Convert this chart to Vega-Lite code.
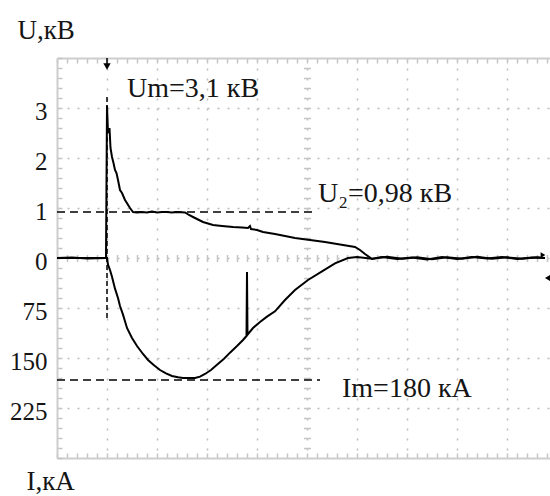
{
  "$schema": "https://vega.github.io/schema/vega-lite/v6.json",
  "width": 493,
  "height": 400,
  "autosize": "none",
  "padding": {"left": 57, "top": 58, "right": 0, "bottom": 38},
  "background": "white",
  "config": {"view": {"stroke": null}, "font": "'Liberation Serif', 'DejaVu Serif', serif"},
  "datasets": {
    "voltage": [
      {"t": 0, "v": 0}, {"t": 0.3, "v": 0.01}, {"t": 0.6, "v": -0.01}, {"t": 0.98, "v": 0},
      {"t": 1.0, "v": 3.05}, {"t": 1.02, "v": 2.5}, {"t": 1.05, "v": 2.6}, {"t": 1.07, "v": 2.2},
      {"t": 1.1, "v": 2.02}, {"t": 1.13, "v": 1.9}, {"t": 1.16, "v": 1.76}, {"t": 1.19, "v": 1.7},
      {"t": 1.22, "v": 1.56}, {"t": 1.26, "v": 1.36}, {"t": 1.3, "v": 1.3}, {"t": 1.36, "v": 1.16},
      {"t": 1.41, "v": 1.08}, {"t": 1.46, "v": 1.0}, {"t": 1.52, "v": 0.92}, {"t": 1.6, "v": 0.91},
      {"t": 1.7, "v": 0.92}, {"t": 1.8, "v": 0.91}, {"t": 1.9, "v": 0.93}, {"t": 2.0, "v": 0.91},
      {"t": 2.1, "v": 0.92}, {"t": 2.2, "v": 0.92}, {"t": 2.3, "v": 0.91}, {"t": 2.4, "v": 0.92},
      {"t": 2.56, "v": 0.91}, {"t": 2.64, "v": 0.86}, {"t": 2.72, "v": 0.82}, {"t": 2.82, "v": 0.77},
      {"t": 2.92, "v": 0.72}, {"t": 3.02, "v": 0.69}, {"t": 3.12, "v": 0.66}, {"t": 3.3, "v": 0.64},
      {"t": 3.52, "v": 0.62}, {"t": 3.7, "v": 0.61}, {"t": 3.82, "v": 0.6}, {"t": 3.86, "v": 0.64},
      {"t": 3.88, "v": 0.58}, {"t": 4.0, "v": 0.56}, {"t": 4.12, "v": 0.52}, {"t": 4.24, "v": 0.5},
      {"t": 4.36, "v": 0.48}, {"t": 4.56, "v": 0.44}, {"t": 4.76, "v": 0.4}, {"t": 5.06, "v": 0.36},
      {"t": 5.36, "v": 0.32}, {"t": 5.66, "v": 0.27}, {"t": 5.96, "v": 0.22}, {"t": 6.06, "v": 0.16},
      {"t": 6.16, "v": 0.08}, {"t": 6.3, "v": -0.02}, {"t": 6.5, "v": 0.02}, {"t": 6.8, "v": -0.02},
      {"t": 7.1, "v": 0.01}, {"t": 7.4, "v": -0.03}, {"t": 7.7, "v": 0.02}, {"t": 8.0, "v": -0.02},
      {"t": 8.3, "v": 0.02}, {"t": 8.6, "v": -0.01}, {"t": 8.9, "v": 0.02}, {"t": 9.2, "v": -0.02},
      {"t": 9.5, "v": 0.01}, {"t": 9.76, "v": 0}
    ],
    "current": [
      {"t": 0, "i": 0}, {"t": 0.98, "i": 0}, {"t": 1.0, "i": 0}, {"t": 1.02, "i": 10},
      {"t": 1.06, "i": 18}, {"t": 1.1, "i": 28}, {"t": 1.16, "i": 46}, {"t": 1.22, "i": 60},
      {"t": 1.26, "i": 72}, {"t": 1.32, "i": 85}, {"t": 1.4, "i": 105}, {"t": 1.5, "i": 120},
      {"t": 1.6, "i": 132}, {"t": 1.72, "i": 144}, {"t": 1.82, "i": 153}, {"t": 1.94, "i": 161},
      {"t": 2.06, "i": 168}, {"t": 2.18, "i": 173}, {"t": 2.3, "i": 177}, {"t": 2.42, "i": 179},
      {"t": 2.52, "i": 180}, {"t": 2.64, "i": 180}, {"t": 2.76, "i": 180}, {"t": 2.86, "i": 178},
      {"t": 2.96, "i": 174}, {"t": 3.08, "i": 168}, {"t": 3.2, "i": 160}, {"t": 3.34, "i": 151},
      {"t": 3.46, "i": 142}, {"t": 3.6, "i": 132}, {"t": 3.72, "i": 123}, {"t": 3.79, "i": 117},
      {"t": 3.8, "i": 21}, {"t": 3.81, "i": 115}, {"t": 3.92, "i": 105}, {"t": 4.06, "i": 96},
      {"t": 4.2, "i": 88}, {"t": 4.36, "i": 80}, {"t": 4.56, "i": 63}, {"t": 4.76, "i": 48},
      {"t": 5.02, "i": 33}, {"t": 5.3, "i": 20}, {"t": 5.56, "i": 8}, {"t": 5.82, "i": 0},
      {"t": 6.0, "i": -1.5}, {"t": 6.3, "i": 1}, {"t": 6.6, "i": -2}, {"t": 6.9, "i": 1},
      {"t": 7.2, "i": -1}, {"t": 7.5, "i": 2}, {"t": 7.8, "i": -1}, {"t": 8.1, "i": 1},
      {"t": 8.4, "i": -2}, {"t": 8.7, "i": 1}, {"t": 9.0, "i": -1}, {"t": 9.3, "i": 1},
      {"t": 9.6, "i": -1}, {"t": 9.76, "i": 0}
    ],
    "vnotes": [
      {"t": 1.4, "v": 3.22, "label": "Um=3,1 кВ"},
      {"t": 5.22, "v": 1.12, "label": "U₂=0,98 кВ"}
    ],
    "inotes": [
      {"t": 5.7, "i": 208.5, "label": "Im=180 кА"}
    ],
    "one": [{}]
  },
  "layer": [
    {
      "resolve": {"axis": {"x": "independent", "y": "independent"}},
      "layer": [
        {
          "data": {"name": "voltage"},
          "mark": {"type": "line", "color": "black", "strokeWidth": 2},
          "encoding": {
            "x": {"field": "t", "type": "quantitative",
              "scale": {"domain": [0, 9.86], "nice": false, "zero": false},
              "axis": {"orient": "bottom", "values": [1, 2, 3, 4, 5, 6, 7, 8, 9], "grid": true,
                "gridColor": "#bdbdbd", "gridDash": [2, 8], "gridWidth": 1.5,
                "ticks": false, "tickSize": 0, "labels": false, "domain": false, "title": null}},
            "y": {"field": "v", "type": "quantitative",
              "scale": {"domain": [-4, 4], "nice": false, "zero": false},
              "axis": {"orient": "left", "values": [3, 2, 1, 0, -1, -2, -3], "grid": true,
                "gridColor": "#bdbdbd", "gridDash": [2, 8], "gridWidth": 1.5,
                "ticks": false, "tickSize": 0, "domain": false,
                "labelExpr": "datum.value >= 0 ? '' + datum.value : '' + (-datum.value * 75)",
                "labelFont": "'Liberation Serif', 'DejaVu Serif', serif", "labelFontSize": 25, "labelColor": "#151515",
                "labelPadding": 10, "labelOffset": 3,
                "title": "U,кВ", "titleAngle": 0, "titleX": -40, "titleY": -20,
                "titleAlign": "left", "titleBaseline": "alphabetic",
                "titleFont": "'Liberation Serif', 'DejaVu Serif', serif", "titleFontSize": 27, "titleFontWeight": "normal",
                "titleColor": "#151515"}}
          }
        },
        {
          "data": {"name": "one"},
          "mark": {"type": "rule", "color": "black", "strokeWidth": 1.5, "strokeDash": [5, 3]},
          "encoding": {
            "x": {"datum": 1, "type": "quantitative",
              "scale": {"domain": [0, 9.86], "nice": false, "zero": false},
              "axis": {"orient": "bottom", "values": [0,0.2,0.4,0.6,0.8,1,1.2,1.4,1.6,1.8,2,2.2,2.4,2.6,2.8,3,3.2,3.4,3.6,3.8,4,4.2,4.4,4.6,4.8,5,5.2,5.4,5.6,5.8,6,6.2,6.4,6.6,6.8,7,7.2,7.4,7.6,7.8,8,8.2,8.4,8.6,8.8,9,9.2,9.4,9.6,9.8],
                "ticks": true, "tickSize": -5, "tickColor": "#c4c4c4", "tickWidth": 1.5,
                "labels": false, "grid": false, "domain": true, "domainColor": "#cdcdcd", "domainWidth": 2,
                "title": null}},
            "y": {"datum": 3.22, "type": "quantitative",
              "scale": {"domain": [-4, 4], "nice": false, "zero": false},
              "axis": {"orient": "left", "values": [-4,-3.8,-3.6,-3.4,-3.2,-3,-2.8,-2.6,-2.4,-2.2,-2,-1.8,-1.6,-1.4,-1.2,-1,-0.8,-0.6,-0.4,-0.2,0,0.2,0.4,0.6,0.8,1,1.2,1.4,1.6,1.8,2,2.2,2.4,2.6,2.8,3,3.2,3.4,3.6,3.8,4],
                "ticks": true, "tickSize": -5, "tickColor": "#c4c4c4", "tickWidth": 1.5,
                "labels": false, "grid": false, "domain": true, "domainColor": "#cdcdcd", "domainWidth": 2,
                "title": "I,кА", "titleAngle": 0, "titleX": -31, "titleY": 431,
                "titleAlign": "left", "titleBaseline": "alphabetic",
                "titleFont": "'Liberation Serif', 'DejaVu Serif', serif", "titleFontSize": 27, "titleFontWeight": "normal",
                "titleColor": "#151515"}},
            "y2": {"datum": -1.2}
          }
        },
        {
          "data": {"name": "one"},
          "mark": {"type": "rule", "color": "black", "strokeWidth": 1.5, "strokeDash": [8, 5]},
          "encoding": {
            "x": {"datum": 0, "type": "quantitative",
              "scale": {"domain": [0, 9.86], "nice": false, "zero": false},
              "axis": {"orient": "top", "values": [0,0.2,0.4,0.6,0.8,1,1.2,1.4,1.6,1.8,2,2.2,2.4,2.6,2.8,3,3.2,3.4,3.6,3.8,4,4.2,4.4,4.6,4.8,5,5.2,5.4,5.6,5.8,6,6.2,6.4,6.6,6.8,7,7.2,7.4,7.6,7.8,8,8.2,8.4,8.6,8.8,9,9.2,9.4,9.6,9.8],
                "ticks": true, "tickSize": -5, "tickColor": "#c4c4c4", "tickWidth": 1.5,
                "labels": false, "grid": false, "domain": true, "domainColor": "#cdcdcd", "domainWidth": 2,
                "title": null}},
            "x2": {"datum": 5.1},
            "y": {"datum": 0.92, "type": "quantitative",
              "scale": {"domain": [-4, 4], "nice": false, "zero": false},
              "axis": {"orient": "left", "offset": -253.5, "values": [-3.8,-3.6,-3.4,-3.2,-3,-2.8,-2.6,-2.4,-2.2,-2,-1.8,-1.6,-1.4,-1.2,-1,-0.8,-0.6,-0.4,-0.2,0,0.2,0.4,0.6,0.8,1,1.2,1.4,1.6,1.8,2,2.2,2.4,2.6,2.8,3,3.2,3.4,3.6,3.8],
                "ticks": true, "tickSize": 7, "tickColor": "#c4c4c4", "tickWidth": 1.5,
                "labels": false, "grid": false, "domain": false, "title": null}}
          }
        },
        {
          "data": {"name": "vnotes"},
          "mark": {"type": "text", "align": "left", "baseline": "alphabetic",
            "font": "'Liberation Serif', 'DejaVu Serif', serif", "fontSize": 28, "color": "#151515"},
          "encoding": {
            "x": {"field": "t", "type": "quantitative",
              "scale": {"domain": [0, 9.86], "nice": false, "zero": false},
              "axis": {"orient": "bottom", "offset": -203.5, "values": [0.2,0.4,0.6,0.8,1,1.2,1.4,1.6,1.8,2,2.2,2.4,2.6,2.8,3,3.2,3.4,3.6,3.8,4,4.2,4.4,4.6,4.8,5,5.2,5.4,5.6,5.8,6,6.2,6.4,6.6,6.8,7,7.2,7.4,7.6,7.8,8,8.2,8.4,8.6,8.8,9,9.2,9.4,9.6,9.8],
                "ticks": true, "tickSize": 7, "tickColor": "#c4c4c4", "tickWidth": 1.5,
                "labels": false, "grid": false, "domain": false, "title": null}},
            "y": {"field": "v", "type": "quantitative",
              "scale": {"domain": [-4, 4], "nice": false, "zero": false}, "axis": null},
            "text": {"field": "label"}
          }
        },
        {
          "data": {"name": "one"},
          "mark": {"type": "rule", "color": "black", "strokeWidth": 1.5},
          "encoding": {
            "x": {"datum": 1, "type": "quantitative", "axis": null},
            "y": {"datum": 4, "type": "quantitative", "axis": null},
            "y2": {"datum": 3.86}
          }
        },
        {
          "data": {"name": "one"},
          "mark": {"type": "point", "shape": "triangle-down", "filled": true, "color": "black", "size": 55, "opacity": 1},
          "encoding": {
            "x": {"datum": 1, "type": "quantitative", "axis": null},
            "y": {"datum": 3.83, "type": "quantitative", "axis": null}
          }
        },
        {
          "data": {"name": "one"},
          "mark": {"type": "point", "shape": "triangle-left", "filled": true, "color": "black", "size": 50, "opacity": 1},
          "encoding": {
            "x": {"datum": 9.82, "type": "quantitative", "axis": null},
            "y": {"datum": -0.4, "type": "quantitative", "axis": null}
          }
        },
        {
          "data": {"name": "one"},
          "mark": {"type": "point", "shape": "triangle-right", "filled": true, "color": "black", "size": 30, "opacity": 1},
          "encoding": {
            "x": {"datum": 9.72, "type": "quantitative", "axis": null},
            "y": {"datum": 0.06, "type": "quantitative", "axis": null}
          }
        }
      ]
    },
    {
      "layer": [
        {
          "data": {"name": "current"},
          "mark": {"type": "line", "color": "black", "strokeWidth": 2},
          "encoding": {
            "x": {"field": "t", "type": "quantitative", "axis": null},
            "y": {"field": "i", "type": "quantitative",
              "scale": {"domain": [-300, 300], "reverse": true, "nice": false, "zero": false},
              "axis": null}
          }
        },
        {
          "data": {"name": "one"},
          "mark": {"type": "rule", "color": "black", "strokeWidth": 1.5, "strokeDash": [8, 5]},
          "encoding": {
            "x": {"datum": 0, "type": "quantitative", "axis": null},
            "x2": {"datum": 5.26},
            "y": {"datum": 183, "type": "quantitative", "axis": null}
          }
        },
        {
          "data": {"name": "inotes"},
          "mark": {"type": "text", "align": "left", "baseline": "alphabetic",
            "font": "'Liberation Serif', 'DejaVu Serif', serif", "fontSize": 28, "color": "#151515"},
          "encoding": {
            "x": {"field": "t", "type": "quantitative", "axis": null},
            "y": {"field": "i", "type": "quantitative", "axis": null},
            "text": {"field": "label"}
          }
        }
      ]
    }
  ],
  "resolve": {"scale": {"y": "independent"}, "axis": {"x": "independent", "y": "independent"}}
}
